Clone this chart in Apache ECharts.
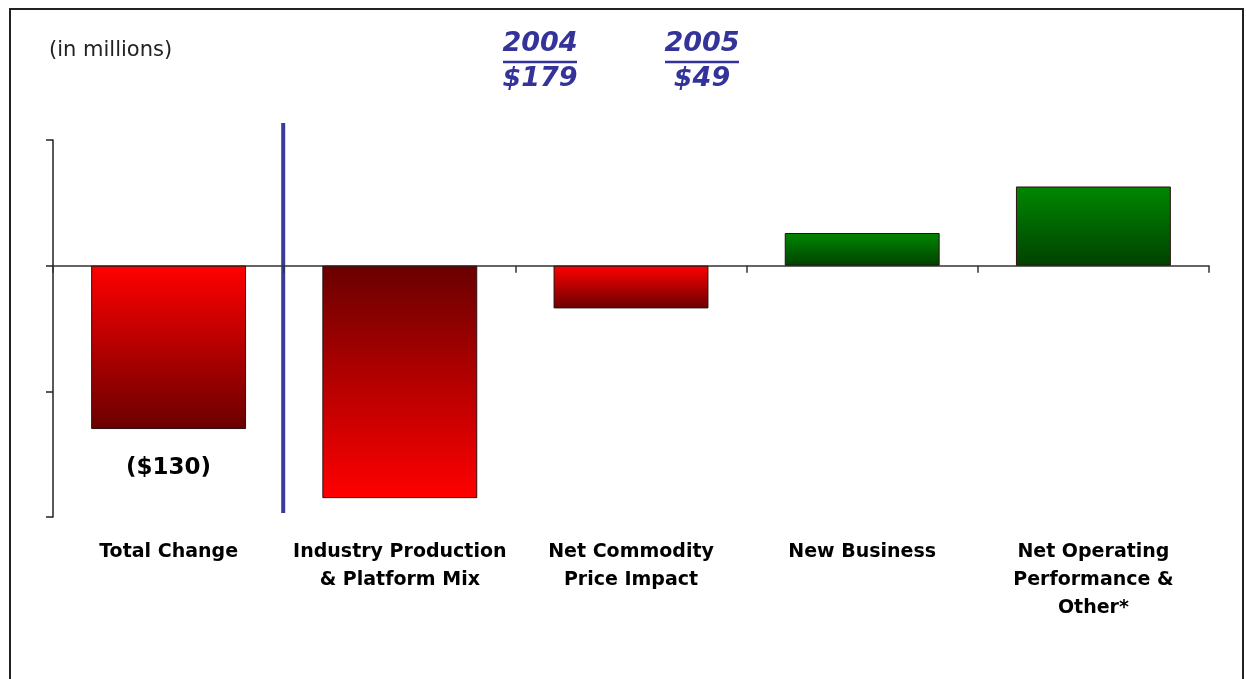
<!DOCTYPE html>
<html>
<head>
<meta charset="utf-8">
<title>Change in Operating Income Drivers</title>
<script src="https://cdn.jsdelivr.net/npm/echarts@6/dist/echarts.min.js"></script>
<style>
  html, body { margin: 0; padding: 0; background: #ffffff; }
  #chart { width: 1246px; height: 679px; }
</style>
</head>
<body>
<div id="chart"></div>
<script>
// Bridge categories (label lines separated by \n)
const categories = [
  'Total Change',
  'Industry Production\n& Platform Mix',
  'Net Commodity\nPrice Impact',
  'New Business',
  'Net Operating\nPerformance &\nOther*'
];

// Change in millions of dollars per driver
const changeValues = [-130, -185, -34, 26, 63];

// Year-over-year totals shown in the header
const yearLabels = ['2004', '2005'];
const yearTotals = ['$179', '$49'];

// Value axis range (no printed tick labels)
const axisMin = -200;
const axisMax = 100;
const axisStep = 100;

const FONT = 'DejaVu Sans';
const NAVY = '#333399';

function grad(top, bottom) {
  return new echarts.graphic.LinearGradient(0, 0, 0, 1, [
    { offset: 0, color: top },
    { offset: 1, color: bottom }
  ]);
}

function barColor(params) {
  const v = params.value;
  if (v >= 0) return grad('#008700', '#004200');
  // the production/mix bar is shaded dark at the axis and bright at its end
  if (params.dataIndex === 1) return grad('#6a0000', '#ff0000');
  return grad('#ff0000', '#6a0000');
}

const chart = echarts.init(document.getElementById('chart'), null, { renderer: 'canvas' });

const option = {
  animation: false,
  backgroundColor: '#ffffff',
  grid: { left: 53, right: 37, top: 140, bottom: 162, containLabel: false },
  xAxis: [
    {
      // zero line with category separators
      type: 'category',
      data: categories,
      boundaryGap: true,
      axisLine: { show: true, onZero: true, lineStyle: { color: '#333333', width: 1.5 } },
      axisTick: { show: true, inside: false, length: 7, alignWithLabel: false, interval: 0,
                  lineStyle: { color: '#333333', width: 1.5 } },
      axisLabel: { show: false },
      splitLine: { show: false }
    },
    {
      // category captions below the plot
      type: 'category',
      data: categories,
      position: 'bottom',
      axisLine: { show: false, onZero: false },
      axisTick: { show: false },
      axisLabel: {
        show: true, interval: 0, margin: 21,
        fontFamily: FONT, fontWeight: 'bold', fontSize: 19,
        lineHeight: 28, color: '#000000', align: 'center'
      },
      splitLine: { show: false }
    }
  ],
  yAxis: {
    type: 'value',
    min: axisMin,
    max: axisMax,
    interval: axisStep,
    axisLine: { show: true, lineStyle: { color: '#222222', width: 1.5 } },
    axisTick: { show: true, inside: false, length: 7, lineStyle: { color: '#222222', width: 1.5 } },
    axisLabel: { show: false },
    splitLine: { show: false }
  },
  series: [
    {
      type: 'bar',
      xAxisIndex: 0,
      data: changeValues,
      barWidth: '67%',
      itemStyle: { color: barColor, borderColor: '#2a1010', borderWidth: 1 },
      label: {
        show: true,
        position: 'bottom',
        distance: 27,
        fontFamily: FONT,
        fontWeight: 'bold',
        fontSize: 23,
        color: '#000000',
        formatter: function (p) {
          // only the overall total carries a value caption
          if (p.dataIndex !== 0) return '';
          const v = p.value;
          return v < 0 ? '($' + Math.abs(v) + ')' : '$' + v;
        }
      }
    }
  ]
};

chart.setOption(option);

// Decorations: frame, unit note, year header and the total/driver divider
function headerGraphics() {
  const g = [];
  g.push({
    type: 'rect', silent: true,
    shape: { x: 10, y: 9, width: 1233, height: 700 },
    style: { fill: 'none', stroke: '#222222', lineWidth: 2 }
  });
  g.push({
    type: 'text', silent: true, x: 49, y: 51,
    style: { text: '(in millions)', fontFamily: FONT, fontSize: 21, fill: '#222222',
             verticalAlign: 'middle', align: 'left' }
  });
  const centers = [540, 702];
  const halfWidth = 37;
  for (let i = 0; i < yearLabels.length; i++) {
    const cx = centers[i];
    g.push({
      type: 'text', silent: true, x: cx, y: 44,
      style: { text: yearLabels[i], fontFamily: FONT, fontWeight: 'bold', fontStyle: 'italic',
               fontSize: 27, fill: NAVY, align: 'center', verticalAlign: 'middle' }
    });
    g.push({
      type: 'line', silent: true,
      shape: { x1: cx - halfWidth, y1: 62, x2: cx + halfWidth, y2: 62 },
      style: { stroke: NAVY, lineWidth: 2.5 }
    });
    g.push({
      type: 'text', silent: true, x: cx, y: 79,
      style: { text: yearTotals[i], fontFamily: FONT, fontWeight: 'bold', fontStyle: 'italic',
               fontSize: 27, fill: NAVY, align: 'center', verticalAlign: 'middle' }
    });
  }
  // divider between the total and the drivers, at the first category boundary
  const p0 = chart.convertToPixel({ xAxisIndex: 0 }, 0);
  const p1 = chart.convertToPixel({ xAxisIndex: 0 }, 1);
  const divX = (p0 + p1) / 2 - 1;
  g.push({
    type: 'line', silent: true,
    shape: { x1: divX, y1: 123, x2: divX, y2: 513 },
    style: { stroke: '#3a3a99', lineWidth: 4 }
  });
  return g;
}

chart.setOption({ graphic: headerGraphics() });
</script>
</body>
</html>
